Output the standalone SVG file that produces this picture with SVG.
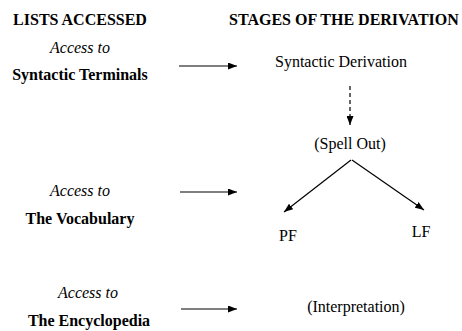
<svg xmlns="http://www.w3.org/2000/svg" width="462" height="331" viewBox="0 0 462 331">
<defs>
<marker id="ah" markerWidth="9" markerHeight="7" refX="9" refY="3.5" orient="auto" markerUnits="userSpaceOnUse">
<path d="M0,0 L9,3.5 L0,7 Z" fill="#000"/>
</marker>
</defs>
<g id="headers" style="font-family:'Liberation Serif';font-size:16px;font-weight:bold">
<text x="80" y="25" text-anchor="middle">LISTS ACCESSED</text>
<text x="229" y="25">STAGES OF THE DERIVATION</text>
</g>
<g id="list1" style="font-family:'Liberation Serif';font-size:16px">
<text x="80" y="53" text-anchor="middle" style="font-style:italic">Access to</text>
<text x="80" y="80" text-anchor="middle" style="font-weight:bold">Syntactic Terminals</text>
</g>
<g id="list2" style="font-family:'Liberation Serif';font-size:16px">
<text x="80" y="196" text-anchor="middle" style="font-style:italic">Access to</text>
<text x="80" y="224" text-anchor="middle" style="font-weight:bold">The Vocabulary</text>
</g>
<g id="list3" style="font-family:'Liberation Serif';font-size:16px">
<text x="88" y="298" text-anchor="middle" style="font-style:italic">Access to</text>
<text x="89" y="326" text-anchor="middle" style="font-weight:bold">The Encyclopedia</text>
</g>
<g id="deriv" style="font-family:'Liberation Serif';font-size:16px">
<text x="341" y="67" text-anchor="middle">Syntactic Derivation</text>
</g>
<g id="spellout" style="font-family:'Liberation Serif';font-size:16px">
<text x="350" y="149" text-anchor="middle">(Spell Out)</text>
</g>
<g id="pf" style="font-family:'Liberation Serif';font-size:16px">
<text x="288" y="241" text-anchor="middle">PF</text>
</g>
<g id="lf" style="font-family:'Liberation Serif';font-size:16px">
<text x="421" y="237" text-anchor="middle">LF</text>
</g>
<g id="interp" style="font-family:'Liberation Serif';font-size:16px">
<text x="356" y="312" text-anchor="middle">(Interpretation)</text>
</g>
<g id="connectors" stroke="#000" stroke-width="1.2" fill="none">
<line x1="179" y1="66" x2="237" y2="66" marker-end="url(#ah)"/>
<line x1="180" y1="192" x2="237" y2="192" marker-end="url(#ah)"/>
<line x1="181" y1="309" x2="237" y2="309" marker-end="url(#ah)"/>
<line x1="350" y1="86" x2="350" y2="125" stroke-dasharray="4,3" marker-end="url(#ah)"/>
<line x1="351" y1="160" x2="284" y2="212" marker-end="url(#ah)"/>
<line x1="352" y1="160" x2="424" y2="210" marker-end="url(#ah)"/>
</g>
</svg>
